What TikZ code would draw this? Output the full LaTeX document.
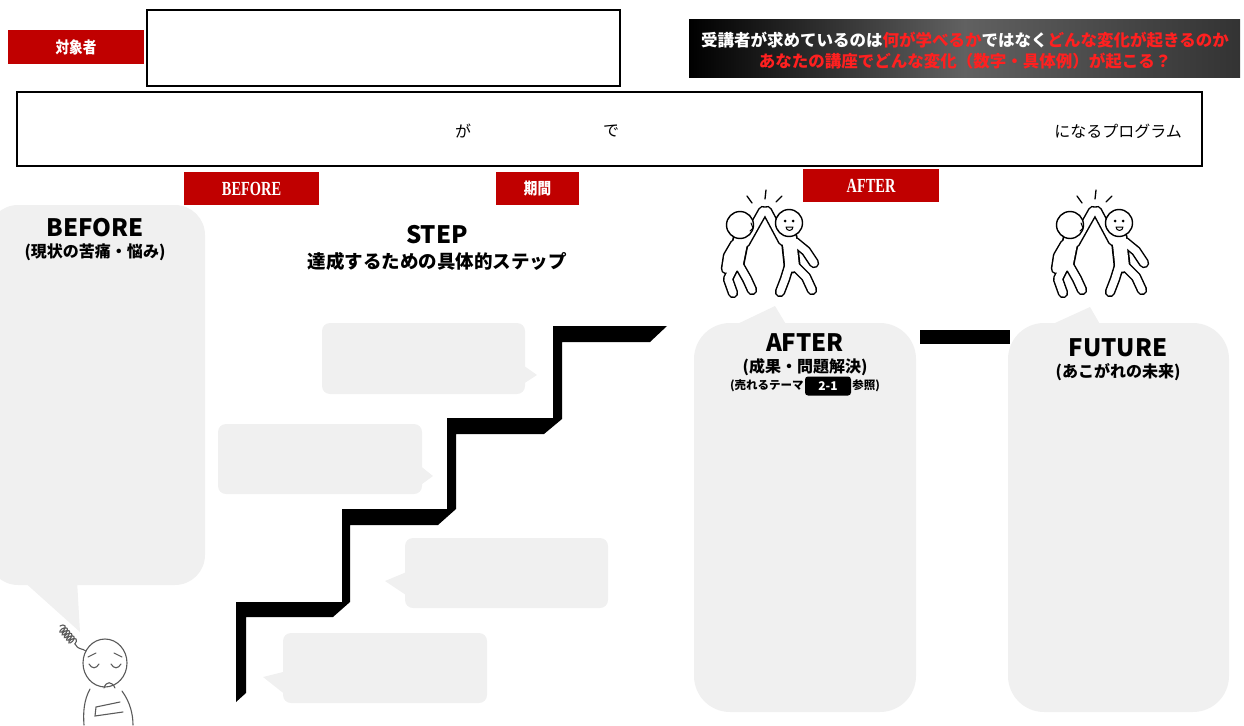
\documentclass[tikz,border=0pt]{standalone}
\usepackage{fontspec}
\setmainfont{Liberation Serif}
\newfontfamily\jp{Noto Sans CJK JP}
\newfontfamily\jpcond[FakeStretch=0.85]{Noto Sans CJK JP}
\newfontfamily\serifcond[FakeStretch=0.72]{Liberation Serif}
\usetikzlibrary{decorations.pathmorphing}

\definecolor{labelred}{HTML}{C00000}
\definecolor{bubble}{HTML}{F0F0F0}
\definecolor{glowred}{HTML}{FF2020}
\definecolor{pencil}{HTML}{5A5A5A}

\newcommand\glow[1]{\textcolor{glowred}{#1}}

\newcommand\highfive[1]{%
  \begin{scope}[shift={#1}, line cap=round, line join=round]
    \foreach \col/\wt/\wl in {black/17/10.5, white/13.5/7.5}{
      \draw[\col, line width=\wt pt] (-24,27) -- (-29,52) (24,25) -- (27,53);
      \draw[\col, line width=\wl pt]
        (-20,31) -- (-2,-1)
        (18,29) -- (2,-1)
        (-30,32) -- (-37,44) -- (-39,57)
        (30,30) -- (41,39) -- (49,51)
        (-30,53) -- (-37,67) -- (-32,81)
        (-26,53) -- (-18,67) -- (-13,78)
        (24,54) -- (20,67) -- (15,80)
        (30,54) -- (41,65) -- (47,78);
    }
    \draw[line width=1.4pt, fill=white] (-25,13) circle (13.5) (24,11) circle (13.5);
    \fill (20,9) circle (1.5) (28,9) circle (1.5);
    \draw[line width=1pt, fill=white] (21,15) -- (28,15) arc[start angle=0, end angle=180, radius=3.5] -- cycle;
    \draw[line width=1pt] (-14,11) -- (-12,16) -- (-15,19);
    \draw[line width=1.3pt] (-13,-9) -- (-18,-16) (0,-13) -- (1,-22) (11,-10) -- (17,-16);
  \end{scope}}

\begin{document}
\begin{tikzpicture}[x=1pt, y=-1pt,
  redtag/.style={fill=labelred, text=white, inner sep=0pt},
  box/.style={draw=black, line width=1.4pt, fill=white, inner sep=0pt},
  stepbub/.style={fill=bubble, rounded corners=8},
  bigbub/.style={fill=bubble, rounded corners=36},
  head/.style={font=\jp\bfseries\fontsize{24}{26}\selectfont},
  sub/.style={font=\jp\bfseries\fontsize{16}{18}\selectfont},
  plain/.style={font=\jp\fontsize{16}{18}\selectfont}
  ]
  \useasboundingbox (0,0) rectangle (1244,725);

  \node [redtag, minimum width=136, minimum height=34, font=\jpcond\bfseries\fontsize{16}{18}\selectfont] (who) at (76,47) {対象者};
  \node [box, minimum width=473, minimum height=76] (whobox) at (383.5,48) {};

  \shade [left color=black, right color=black!80, middle color=black!62] (689,20) rectangle (1240,77);
  \node [font=\jp\bfseries\fontsize{16.5}{18}\selectfont, text=white] (msga) at (965,40)
    {受講者が求めているのは\glow{何が学べるか}ではなく\glow{どんな変化が起きるのか}};
  \node [font=\jp\bfseries\fontsize{16.5}{18}\selectfont] (msgb) at (965,61)
    {\glow{あなたの講座でどんな変化（数字・具体例）が起こる？}};

  \node [box, minimum width=1185, minimum height=74] (goal) at (609.5,129) {};
  \node [plain] (ga) at (463,131) {が};
  \node [plain] (de) at (611,131) {で};
  \node [plain] (program) at (1118,131) {になるプログラム};

  \node [redtag, minimum width=135, minimum height=33, font=\serifcond\bfseries\fontsize{20}{22}\selectfont] (tagbefore) at (251.5,188.5) {BEFORE};
  \node [redtag, minimum width=83, minimum height=33, font=\jpcond\bfseries\fontsize{16}{18}\selectfont] (tagterm) at (537.5,188.5) {期間};
  \node [redtag, minimum width=136, minimum height=33, font=\serifcond\bfseries\fontsize{20}{22}\selectfont] (tagafter) at (871,185.5) {AFTER};

  \fill [bigbub, rounded corners=30] (-12,205) rectangle (205,585);
  \fill [bubble] (22,580) -- (80,632) -- (77,580) -- cycle;
  \node [head] (beforehead) at (95,228) {BEFORE};
  \node [sub] (beforesub) at (95,252) {(現状の苦痛・悩み)};

  \node [head] (stephead) at (437,235) {STEP};
  \node [font=\jp\bfseries\fontsize{18.5}{20}\selectfont] (stepsub) at (437,261) {達成するための具体的ステップ};

  \fill [stepbub] (322,323) rectangle (525,394);
  \fill [bubble] (520,363) -- (537,375) -- (520,386) -- cycle;
  \fill [stepbub] (218,424) rectangle (422,494);
  \fill [bubble] (418,464) -- (433,476) -- (418,487) -- cycle;
  \fill [stepbub] (405,538) rectangle (608,608);
  \fill [bubble] (409,571) -- (385,581) -- (409,597) -- cycle;
  \fill [stepbub] (283,633) rectangle (487,703);
  \fill [bubble] (287,671) -- (263,677) -- (287,696) -- cycle;

  \fill [black] (236,702) -- (236,602) -- (342,602) -- (342,509) -- (447,509) -- (447,418)
    -- (553,418) -- (553,326) -- (667,326) -- (650,342) -- (562,342) -- (562,419)
    -- (544,434) -- (456,434) -- (456,509) -- (438,525) -- (350,525) -- (350,602)
    -- (333,617) -- (246,617) -- (246,693) -- cycle;

  \highfive{(765,212)}
  \highfive{(1095,212)}

  \fill [bigbub] (694,323) rectangle (916,712);
  \fill [bubble] (708,338) -- (775,306) -- (787,326) -- cycle;
  \node [head] (afterhead) at (805,343) {AFTER};
  \node [sub] (aftersub) at (805,367) {(成果・問題解決)};
  \node [fill=black, text=white, rounded corners=3, minimum width=46, minimum height=19, inner sep=0pt,
    font=\jp\bfseries\fontsize{12}{13}\selectfont] (theme) at (828,386) {2-1};
  \node [anchor=east, inner sep=1pt, font=\jp\bfseries\fontsize{11.5}{13}\selectfont] (themel) at (theme.west) {(売れるテーマ};
  \node [anchor=west, inner sep=1pt, font=\jp\bfseries\fontsize{11.5}{13}\selectfont] (themer) at (theme.east) {参照)};

  \fill [black] (920,330) rectangle (1010,344);

  \fill [bigbub] (1008,323) rectangle (1229,712);
  \fill [bubble] (1022,338) -- (1090,307) -- (1101,326) -- cycle;
  \node [head] (futurehead) at (1118,348) {FUTURE};
  \node [sub] (futuresub) at (1118,372) {(あこがれの未来)};

  \begin{scope}[pencil, line width=1.1pt, line cap=round]
    \draw (105,663) ellipse [x radius=22, y radius=24];
    \draw (89,664) .. controls (92,669) and (96,669) .. (99,664);
    \draw (111,664) .. controls (114,669) and (118,669) .. (121,664);
    \draw (88,657) -- (96,653) (114,653) -- (122,657);
    \draw (104,688) .. controls (106,681) and (112,681) .. (115,688);
    \draw (90,689) .. controls (84,700) and (83,712) .. (84,725);
    \draw (122,691) .. controls (130,702) and (133,714) .. (133,725);
    \draw (120,702) -- (96,707) -- (95,716) -- (123,712);
    \draw [decorate, decoration={coil, amplitude=4, segment length=3.5}] (60,626) -- (75,644);
    \draw (75,644) .. controls (78,650) and (82,648) .. (86,651);
  \end{scope}
\end{tikzpicture}
\end{document}
